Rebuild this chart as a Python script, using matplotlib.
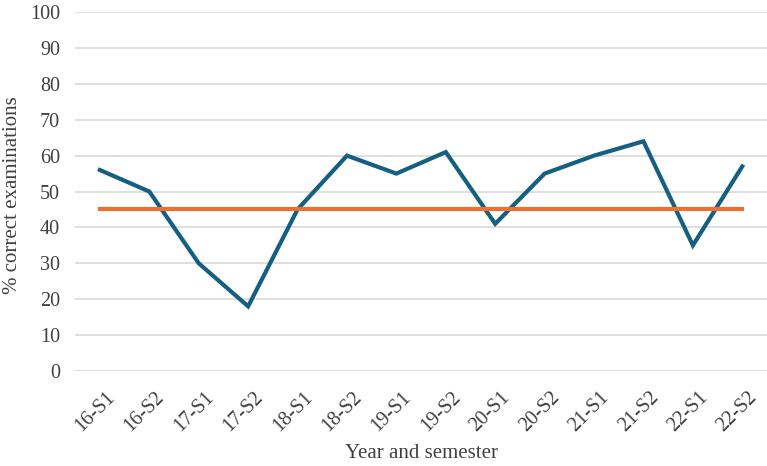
import numpy as np
import matplotlib
matplotlib.use("Agg")
import matplotlib.pyplot as plt
import matplotlib.transforms as mtransforms

plt.rcParams['font.family'] = ['Liberation Serif', 'DejaVu Serif']

semesters = ["16-S1", "16-S2", "17-S1", "17-S2", "18-S1", "18-S2", "19-S1",
             "19-S2", "20-S1", "20-S2", "21-S1", "21-S2", "22-S1", "22-S2"]
pct_correct = [56, 50, 30, 18, 45, 60, 55, 61, 41, 55, 60, 64, 35, 57]
threshold = [45] * len(semesters)

fig = plt.figure(figsize=(7.67, 4.66), dpi=100)
ax = fig.add_axes([0.098, 0.204, 0.902, 0.770])

x = np.arange(len(semesters))
ax.plot(x, pct_correct, color='#156082', lw=3, solid_joinstyle='miter', zorder=3)
ax.plot(x, threshold, color='#E97132', lw=3, zorder=3)

ax.set_xlim(-0.5, len(semesters) - 0.5)
ax.set_ylim(0, 100)
ax.set_yticks(np.arange(0, 101, 10))
ax.set_xticks(x)
ax.set_xticklabels(semesters, rotation=45, ha='right', rotation_mode='anchor')
ax.tick_params(axis='both', length=0, labelsize=14.5, colors='#404040')
ax.tick_params(axis='x', pad=12)
ax.tick_params(axis='y', pad=11)
# nudge the slanted labels a little to the right, like the original
shift = mtransforms.ScaledTranslation(4 / 72, 0, fig.dpi_scale_trans)
for lbl in ax.get_xticklabels():
    lbl.set_transform(lbl.get_transform() + shift)

ax.grid(axis='y', color='#D9D9D9', lw=1.2)
ax.set_axisbelow(True)
for s in ax.spines.values():
    s.set_visible(False)

ax.set_xlabel("Year and semester", fontsize=15, color='#404040')
ax.xaxis.set_label_coords(0.5, -0.204)
ax.set_ylabel("% correct examinations", fontsize=15, color='#404040')
ax.yaxis.set_label_coords(-0.077, 0.49)

fig.savefig("out.png", dpi=100)
